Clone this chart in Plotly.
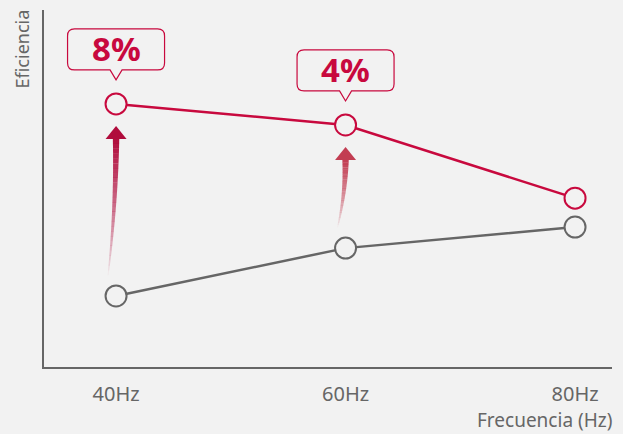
"""Eficiencia vs frecuencia: comparación de dos curvas con ganancia destacada."""
import plotly.graph_objects as go

FRECUENCIA = [40, 60, 80]
TICK_LABELS = ["40Hz", "60Hz", "80Hz"]
EFICIENCIA_NUEVA = [73.7, 67.8, 47.3]
EFICIENCIA_BASE = [19.9, 33.3, 39.2]
GANANCIA = ["8%", "4%", None]

RED = "#c8093e"
GRAY = "#666666"
BG = "#f2f2f2"
FONT = "Noto Sans"

Y_RANGE = [0, 100]
PLOT_H = 357  # px, used to convert pixel offsets to data units
PX = (Y_RANGE[1] - Y_RANGE[0]) / PLOT_H


def callout_path(w=97, bottom=34, top=75, tip=24, notch=6, r=7):
    """Rounded box with a downward pointer, pixel offsets from the anchor."""
    hl = -w / 2
    hr = w / 2
    return (
        f"M0,{tip} L{-notch},{bottom} L{hl + r},{bottom} "
        f"Q{hl},{bottom} {hl},{bottom + r} L{hl},{top - r} "
        f"Q{hl},{top} {hl + r},{top} L{hr - r},{top} "
        f"Q{hr},{top} {hr},{top - r} L{hr},{bottom + r} "
        f"Q{hr},{bottom} {hr - r},{bottom} L{notch},{bottom} Z"
    )


def arrow_shapes(x, y_from, y_to, color, max_alpha, n=28):
    """Gradient arrow drawn as stacked slices, fading toward the bottom."""
    shapes = []
    head_tip = y_to - 22 * PX
    head_base = y_to - 35 * PX
    shaft_bottom = y_from + 21 * PX
    rgb = tuple(int(color[i:i + 2], 16) for i in (1, 3, 5))

    def center(t):
        return -8 * t * t

    def half(t):
        return 3.2 - 2.7 * t

    for i in range(n):
        t0 = i / n
        t1 = (i + 1) / n
        ya = head_base - (head_base - shaft_bottom) * t0
        yb = head_base - (head_base - shaft_bottom) * t1 - 0.05
        alpha = max_alpha * (1 - (t0 + t1) / 2) ** 0.8
        path = (
            f"M{center(t0) - half(t0)},{ya} L{center(t0) + half(t0)},{ya} "
            f"L{center(t1) + half(t1)},{yb} L{center(t1) - half(t1)},{yb} Z"
        )
        shapes.append(dict(
            type="path", path=path, xref="x", yref="y",
            xsizemode="pixel", xanchor=x, ysizemode="scaled",
            fillcolor=f"rgba({rgb[0]},{rgb[1]},{rgb[2]},{alpha:.3f})",
            line=dict(width=0), layer="above",
        ))
    shapes.append(dict(
        type="path",
        path=f"M0,{head_tip} L-10.5,{head_base} L10.5,{head_base} Z",
        xref="x", yref="y", xsizemode="pixel", xanchor=x, ysizemode="scaled",
        fillcolor=color, opacity=max_alpha, line=dict(width=0), layer="above",
    ))
    return shapes


fig = go.Figure()
fig.add_trace(go.Scatter(
    x=FRECUENCIA, y=EFICIENCIA_BASE, mode="lines+markers",
    line=dict(color=GRAY, width=2.5),
    marker=dict(symbol="circle", size=21, color=BG, line=dict(color=GRAY, width=2)),
    hoverinfo="skip",
))
fig.add_trace(go.Scatter(
    x=FRECUENCIA, y=EFICIENCIA_NUEVA, mode="lines+markers",
    line=dict(color=RED, width=2.5),
    marker=dict(symbol="circle", size=21, color=BG, line=dict(color=RED, width=2)),
    hoverinfo="skip",
))

shapes = []
annotations = []
arrow_style = [("#b00c3c", 1.0), ("#c23d52", 1.0)]
for i, label in enumerate(GANANCIA):
    if label is None:
        continue
    color, alpha = arrow_style[i]
    shapes += arrow_shapes(FRECUENCIA[i], EFICIENCIA_BASE[i], EFICIENCIA_NUEVA[i], color, alpha)
    shapes.append(dict(
        type="path", path=callout_path(), xref="x", yref="y",
        xsizemode="pixel", ysizemode="pixel",
        xanchor=FRECUENCIA[i], yanchor=EFICIENCIA_NUEVA[i],
        fillcolor=BG, line=dict(color=RED, width=1.2), layer="above",
    ))
    annotations.append(dict(
        x=FRECUENCIA[i], y=EFICIENCIA_NUEVA[i], xref="x", yref="y",
        text=f"<b>{label}</b>", showarrow=False, yshift=55,
        font=dict(family=FONT, size=33, color=RED),
    ))

annotations.append(dict(
    x=0, y=1, xref="paper", yref="paper", xshift=-23, xanchor="center",
    yanchor="top", yshift=2, text="Eficiencia", textangle=-90, showarrow=False,
    font=dict(family=FONT, size=18, color=GRAY),
))
annotations.append(dict(
    x=1, y=0, xref="paper", yref="paper", xanchor="right", yanchor="top",
    xshift=2, yshift=-38, text="Frecuencia (Hz)", showarrow=False,
    font=dict(family=FONT, size=19, color=GRAY),
))

fig.update_layout(
    width=623, height=434,
    paper_bgcolor=BG, plot_bgcolor=BG,
    margin=dict(l=44, r=11, t=10, b=67),
    showlegend=False,
    shapes=shapes, annotations=annotations,
    xaxis=dict(
        range=[33.72, 83.22], tickvals=FRECUENCIA, ticktext=TICK_LABELS,
        showgrid=False, zeroline=False, showline=True, linecolor=GRAY,
        linewidth=1.5, ticks="", ticklabelstandoff=8,
        tickfont=dict(family=FONT, size=20, color=GRAY),
    ),
    yaxis=dict(
        range=Y_RANGE, showgrid=False, zeroline=False, showline=True,
        linecolor=GRAY, linewidth=1.5, showticklabels=False, ticks="",
    ),
)

fig.write_html(
    "out.html",
    config={"displayModeBar": False},
    post_script="document.body.style.margin='0';",
)
